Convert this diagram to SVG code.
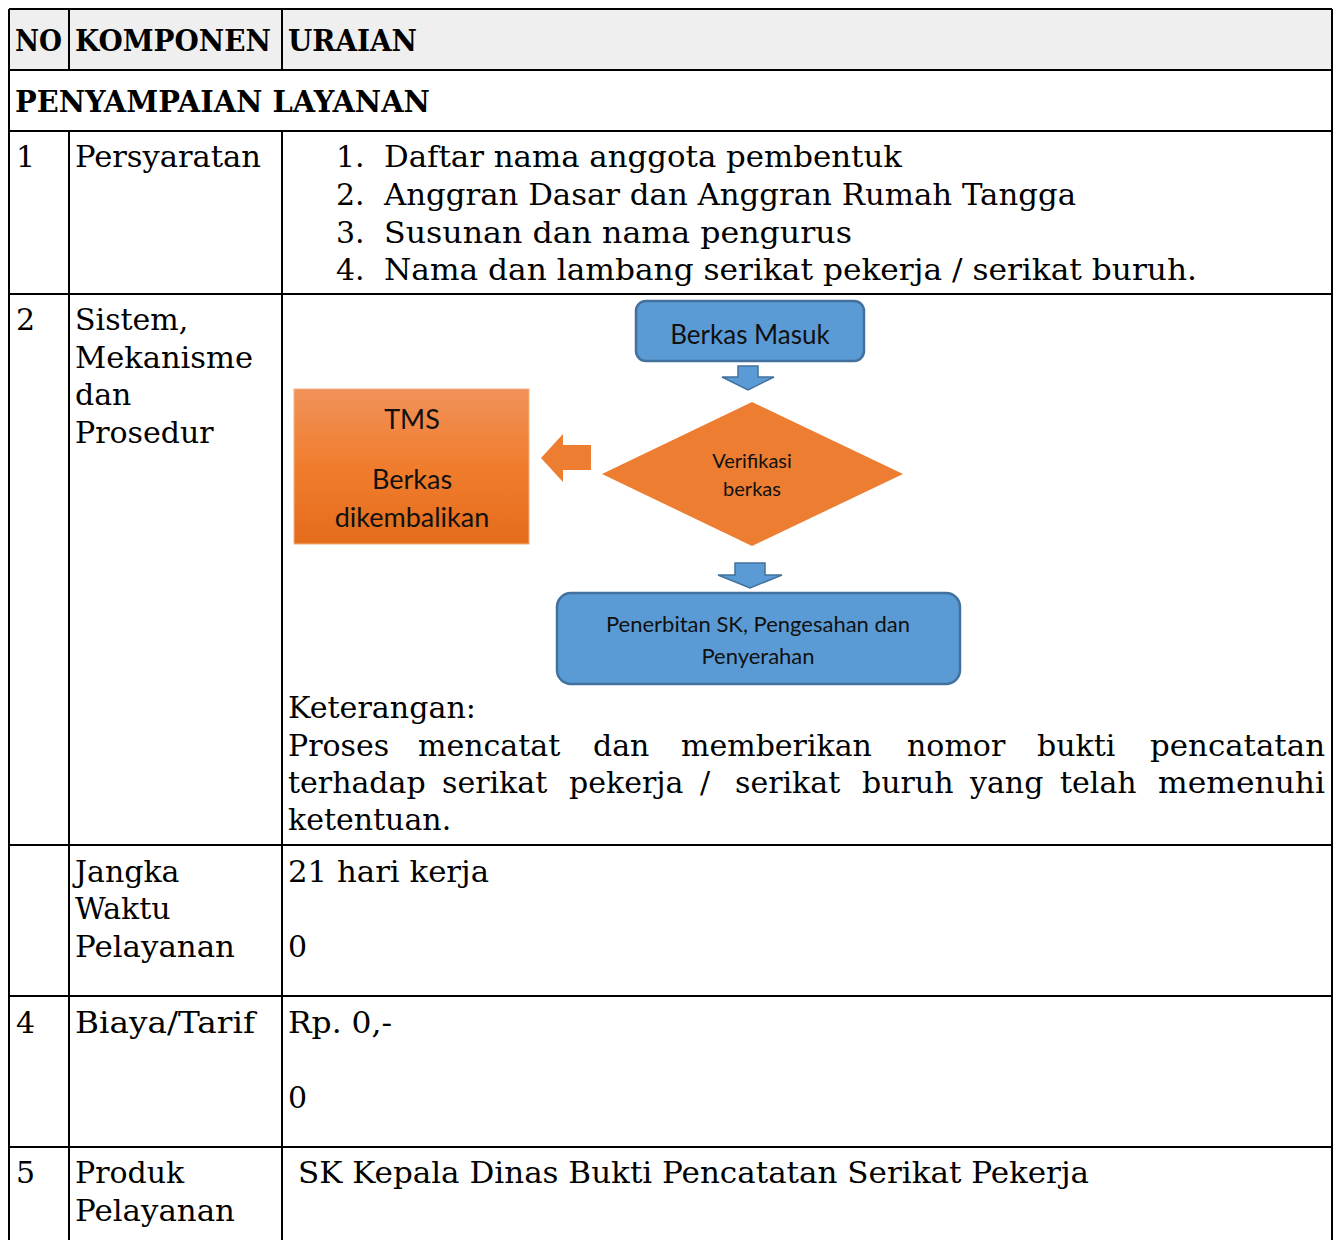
<svg xmlns="http://www.w3.org/2000/svg" width="1341" height="1240" viewBox="0 0 1341 1240">
<style>
.t{font-family:"DejaVu Serif","Liberation Serif",serif;font-size:30px;fill:#000}
.b{font-weight:bold}
.f{font-family:Lato,"Open Sans","Liberation Sans",sans-serif;fill:#111;text-anchor:middle}
.ln{stroke:#000;stroke-width:2;fill:none}
</style>
<defs>
<linearGradient id="og" x1="0" y1="0" x2="0" y2="1">
<stop offset="0" stop-color="#f1925a"/>
<stop offset="0.5" stop-color="#f07d2e"/>
<stop offset="1" stop-color="#e46c1b"/>
</linearGradient>
</defs>
<rect width="1341" height="1240" fill="#fff"/>
<g id="table">
<rect x="9" y="9" width="1323" height="61" fill="#efefef"/>
<path class="ln" d="M9 9H1332M9 70H1332M9 131H1332M9 294H1332M9 845H1332M9 996H1332M9 1147H1332M9 9V1240M1332 9V1240M69 9V70M69 131V1240M282 9V70M282 131V1240"/>
</g>
<g id="header">
<text class="t b" x="15" y="51" textLength="47" lengthAdjust="spacingAndGlyphs">NO</text>
<text class="t b" x="75" y="51" textLength="196" lengthAdjust="spacingAndGlyphs">KOMPONEN</text>
<text class="t b" x="288" y="51" textLength="129" lengthAdjust="spacingAndGlyphs">URAIAN</text>
<text class="t b" x="15" y="112" textLength="415" lengthAdjust="spacingAndGlyphs">PENYAMPAIAN LAYANAN</text>
</g>
<g id="row1">
<text class="t" x="16" y="167">1</text>
<text class="t" x="75" y="167" textLength="186" lengthAdjust="spacingAndGlyphs">Persyaratan</text>
<text class="t" x="336" y="167">1.</text>
<text class="t" x="384" y="167" textLength="518" lengthAdjust="spacingAndGlyphs">Daftar nama anggota pembentuk</text>
<text class="t" x="336" y="205">2.</text>
<text class="t" x="384" y="205" textLength="692" lengthAdjust="spacingAndGlyphs">Anggran Dasar dan Anggran Rumah Tangga</text>
<text class="t" x="336" y="243">3.</text>
<text class="t" x="384" y="243" textLength="468" lengthAdjust="spacingAndGlyphs">Susunan dan nama pengurus</text>
<text class="t" x="336" y="280">4.</text>
<text class="t" x="384" y="280" textLength="813" lengthAdjust="spacingAndGlyphs">Nama dan lambang serikat pekerja / serikat buruh.</text>
</g>
<g id="row2">
<text class="t" x="16" y="330">2</text>
<text class="t" x="75" y="330">Sistem,</text>
<text class="t" x="75" y="368" textLength="178" lengthAdjust="spacingAndGlyphs">Mekanisme</text>
<text class="t" x="75" y="405">dan</text>
<text class="t" x="75" y="443">Prosedur</text>
<text class="t" x="288" y="718" textLength="188" lengthAdjust="spacingAndGlyphs">Keterangan:</text>
<text class="t" y="756"><tspan x="288">Proses</tspan><tspan x="418">mencatat</tspan><tspan x="593">dan</tspan><tspan x="681">memberikan</tspan><tspan x="907">nomor</tspan><tspan x="1037">bukti</tspan><tspan x="1150" textLength="175" lengthAdjust="spacingAndGlyphs">pencatatan</tspan></text>
<text class="t" y="793"><tspan x="288">terhadap</tspan><tspan x="442">serikat</tspan><tspan x="569">pekerja</tspan><tspan x="700">/</tspan><tspan x="735">serikat</tspan><tspan x="862">buruh</tspan><tspan x="970">yang</tspan><tspan x="1060">telah</tspan><tspan x="1158" textLength="167" lengthAdjust="spacingAndGlyphs">memenuhi</tspan></text>
<text class="t" x="288" y="830">ketentuan.</text>
</g>
<g id="node-berkas-masuk">
<rect x="636" y="301" width="228" height="60" rx="10" fill="#5b9bd5" stroke="#41719c" stroke-width="2.5"/>
<text class="f" x="750" y="344" font-size="26">Berkas Masuk</text>
</g>
<g id="node-verifikasi">
<polygon points="752,402 903,474 752,546 602,474" fill="#ed7d31"/>
<text class="f" x="752" y="468" font-size="20">Verifikasi</text>
<text class="f" x="752" y="496" font-size="20">berkas</text>
</g>
<g id="node-tms">
<rect x="294" y="389" width="235" height="155" fill="url(#og)" stroke="#f4b183" stroke-width="1"/>
<text class="f" x="412" y="429" font-size="27">TMS</text>
<text class="f" x="412" y="489" font-size="27">Berkas</text>
<text class="f" x="412" y="527" font-size="27">dikembalikan</text>
</g>
<g id="node-penerbitan">
<rect x="557" y="593" width="403" height="91" rx="14" fill="#5b9bd5" stroke="#41719c" stroke-width="2.5"/>
<text class="f" x="758" y="632" font-size="22">Penerbitan SK, Pengesahan dan</text>
<text class="f" x="758" y="664" font-size="22">Penyerahan</text>
</g>
<g id="connectors">
<polygon points="738,366 758,366 758,377 774,377 748,390 722,377 738,377" fill="#5b9bd5" stroke="#41719c" stroke-width="1.5"/>
<polygon points="591,445 591,470 563,470 563,482 541,458 563,434 563,445" fill="#ed7d31"/>
<polygon points="735,563 765,563 765,575 782,575 750,588 718,575 735,575" fill="#5b9bd5" stroke="#41719c" stroke-width="1.5"/>
</g>
<g id="row3">
<text class="t" x="75" y="882">Jangka</text>
<text class="t" x="75" y="919">Waktu</text>
<text class="t" x="75" y="957" textLength="160" lengthAdjust="spacingAndGlyphs">Pelayanan</text>
<text class="t" x="288" y="882" textLength="201" lengthAdjust="spacingAndGlyphs">21 hari kerja</text>
<text class="t" x="288" y="957">0</text>
</g>
<g id="row4">
<text class="t" x="16" y="1033">4</text>
<text class="t" x="75" y="1033" textLength="180" lengthAdjust="spacingAndGlyphs">Biaya/Tarif</text>
<text class="t" x="288" y="1033" textLength="104" lengthAdjust="spacingAndGlyphs">Rp. 0,-</text>
<text class="t" x="288" y="1108">0</text>
</g>
<g id="row5">
<text class="t" x="16" y="1183">5</text>
<text class="t" x="75" y="1183">Produk</text>
<text class="t" x="75" y="1221" textLength="160" lengthAdjust="spacingAndGlyphs">Pelayanan</text>
<text class="t" x="298" y="1183" textLength="791" lengthAdjust="spacingAndGlyphs">SK Kepala Dinas Bukti Pencatatan Serikat Pekerja</text>
</g>
</svg>
